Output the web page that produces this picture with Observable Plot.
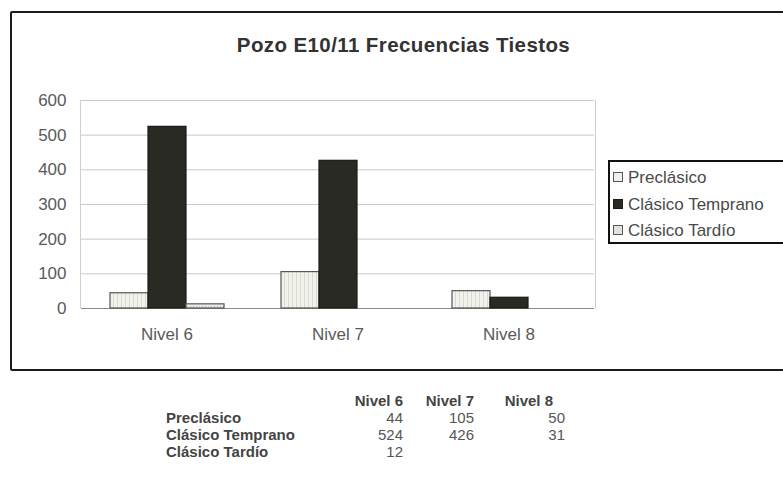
<!DOCTYPE html>
<html><head><meta charset="utf-8">
<script src="https://cdn.jsdelivr.net/npm/d3@7"></script>
<script src="https://cdn.jsdelivr.net/npm/@observablehq/plot@0.6"></script>
<style>
html,body{margin:0;padding:0;background:#fff;overflow:hidden;}
#page{position:relative;width:783px;height:504px;overflow:hidden;font-family:"Liberation Sans",Arial,sans-serif;color:#4a4a4a;}
#box{position:absolute;left:10px;top:11px;width:800px;height:356px;border:2.5px solid #1b1b1b;border-radius:2px;}
#title{position:absolute;left:0;width:807px;top:35px;text-align:center;font-weight:bold;font-size:20.5px;line-height:20px;letter-spacing:0.4px;color:#333;}
#chart{position:absolute;left:0;top:0;}
#plotframe{position:absolute;left:80px;top:100px;width:514px;height:208px;border-left:1px solid #cfcfcf;border-right:1px solid #cfcfcf;pointer-events:none;}
#legend{position:absolute;left:608px;top:160px;width:200px;height:80px;border:2.5px solid #111;}
.li{position:absolute;left:3px;font-size:17px;line-height:20px;white-space:nowrap;color:#4a4a4a;}
.sw{display:inline-block;width:8px;height:8px;border:1px solid #444;margin-right:5px;vertical-align:1px;}
#tbl{position:absolute;left:166px;top:392px;border-collapse:collapse;font-size:15px;}
#tbl td,#tbl th{padding:0;line-height:17px;height:17px;white-space:nowrap;box-sizing:border-box;}
#tbl th{font-weight:bold;text-align:right;color:#444;}
#tbl td.lab{font-weight:bold;text-align:left;color:#444;width:164px;}
#tbl td.num{text-align:right;color:#555;}
</style></head>
<body><div id="page">
<div id="box"></div>
<div id="title">Pozo E10/11 Frecuencias Tiestos</div>
<div id="chart"></div>
<div id="plotframe"></div>
<div id="legend"></div>
<table id="tbl"></table>
</div>
<script>
const niveles = ["Nivel 6", "Nivel 7", "Nivel 8"];
const series = ["Preclásico", "Clásico Temprano", "Clásico Tardío"];
const preclasico = [44, 105, 50];
const clasicoTemprano = [524, 426, 31];
const clasicoTardio = [12, null, null];
const yTicks = [0, 100, 200, 300, 400, 500, 600];
const fills = ["url(#patPre)", "#2a2a24", "url(#patTar)"];
const swatchFills = ["#f0f0ea", "#2a2a24", "#e3e3dd"];
const strokes = ["#555", "#1a1a16", "#555"];

const seriesValues = [preclasico, clasicoTemprano, clasicoTardio];
const rows = series.map((s, j) =>
  niveles.map((n, i) => ({nivel: n, serie: s, value: seriesValues[j][i]})).filter(d => d.value != null)
);

const chart = Plot.plot({
  width: 783, height: 370,
  marginLeft: 80, marginRight: 188, marginTop: 100, marginBottom: 62,
  style: {fontFamily: "Liberation Sans, Arial, sans-serif", fontSize: "17px", color: "#5a5a5a", background: "transparent"},
  fx: {domain: niveles, padding: 0, label: null, tickSize: 0, tickPadding: 19, axis: "bottom"},
  x: {domain: series, paddingInner: 0, paddingOuter: 0.72, axis: null},
  y: {domain: [0, 600], ticks: yTicks, tickSize: 0, tickPadding: 15, label: null},
  marks: [
    Plot.gridY(yTicks.slice(1), {stroke: "#cacaca", strokeOpacity: 1}),
    Plot.ruleY([0], {stroke: "#8a8a8a"}),
    ...rows.map((r, j) => Plot.barY(r, {fx: "nivel", x: "serie", y: "value", fill: fills[j], stroke: strokes[j], strokeWidth: 1.2}))
  ]
});
const ns = "http://www.w3.org/2000/svg";
const defs = document.createElementNS(ns, "defs");
defs.innerHTML = `
<pattern id="patPre" patternUnits="userSpaceOnUse" width="4" height="4">
  <rect width="4" height="4" fill="#f2f2ec"/>
  <rect x="0" width="1" height="4" fill="#d9d9d2"/>
</pattern>
<pattern id="patTar" patternUnits="userSpaceOnUse" width="3" height="3">
  <rect width="3" height="3" fill="#ececE6"/>
  <rect x="0" y="0" width="1" height="1" fill="#b8b8b0"/>
</pattern>`;
chart.insertBefore(defs, chart.firstChild);
document.getElementById("chart").appendChild(chart);

const legend = document.getElementById("legend");
series.forEach((s, j) => {
  const d = document.createElement("div");
  d.className = "li";
  d.style.top = (6 + j * 26.5) + "px";
  d.innerHTML = `<span class="sw" style="background:${swatchFills[j]};border-color:${strokes[j]}"></span>${s}`;
  legend.appendChild(d);
});

const tbl = document.getElementById("tbl");
const colW = [73, 71, 91];
const headPad = [0, 0, 12];
let html = "<tr><td class='lab'></td>" + niveles.map((n, i) => `<th style="width:${colW[i]}px;padding-right:${headPad[i]}px">${n}</th>`).join("") + "</tr>";
series.forEach((s, j) => {
  html += `<tr><td class="lab">${s}</td>` + niveles.map((n, i) => `<td class="num">${seriesValues[j][i] == null ? "" : seriesValues[j][i]}</td>`).join("") + "</tr>";
});
tbl.innerHTML = html;
</script>
</body></html>
